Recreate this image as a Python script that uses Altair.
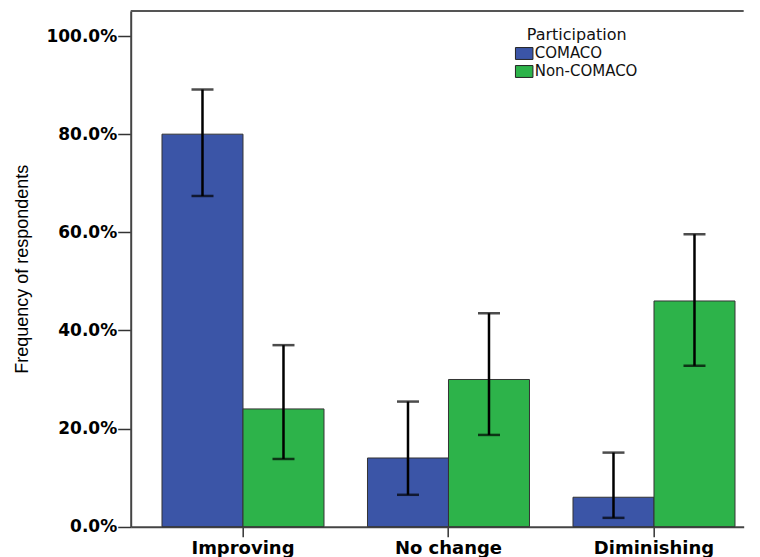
import altair as alt
import pandas as pd

categories = ["Improving", "No change", "Diminishing"]
groups = ["COMACO", "Non-COMACO"]
comaco = [80.0, 14.0, 6.0]
comaco_lo = [67.4, 6.5, 1.8]
comaco_hi = [89.1, 25.5, 15.1]
non_comaco = [24.0, 30.0, 46.0]
non_comaco_lo = [13.8, 18.7, 32.8]
non_comaco_hi = [37.0, 43.5, 59.6]
y_ticks = [0, 20, 40, 60, 80, 100]
y_max = 105.1
colors = ["#3b55a7", "#2db34a"]

rows = []
for i, c in enumerate(categories):
    rows.append({"category": c, "group": groups[0], "value": comaco[i], "lo": comaco_lo[i], "hi": comaco_hi[i]})
    rows.append({"category": c, "group": groups[1], "value": non_comaco[i], "lo": non_comaco_lo[i], "hi": non_comaco_hi[i]})
df = pd.DataFrame(rows)

W = 613
H = 515.7

x_enc = alt.X(
    "category:N", sort=categories,
    scale=alt.Scale(paddingInner=0.2117, paddingOuter=0.0973, align=0.7825),
    axis=alt.Axis(title=None, labelAngle=0, labelFont="DejaVu Sans", labelFontWeight="bold",
                  labelFontSize=18, labelColor="#000", tickSize=10, tickColor="#333",
                  tickWidth=1.5, domainColor="#444", domainWidth=2, labelPadding=3),
)
xo_enc = alt.XOffset("group:N", sort=groups, scale=alt.Scale(paddingInner=0, paddingOuter=0))
y_scale = alt.Scale(domain=[0, y_max], nice=False)

base = alt.Chart(df).encode(x=x_enc, xOffset=xo_enc)

bars = base.mark_bar(stroke="#333", strokeWidth=1).encode(
    y=alt.Y("value:Q", scale=y_scale,
            axis=alt.Axis(values=y_ticks, labelExpr="format(datum.value, '.1f') + '%'",
                          labelFont="DejaVu Sans", labelFontWeight="bold", labelFontSize=17,
                          labelColor="#000", tickSize=13, tickColor="#333", tickWidth=1.5,
                          domainColor="#444", domainWidth=2, labelPadding=1, grid=False,
                          title="Frequency of respondents", titleFont="Liberation Sans",
                          titleFontSize=18, titleFontWeight="normal", titleColor="#000",
                          titleX=-108.7, titleY=H / 2, titleAngle=270, titleAlign="center",
                          titleBaseline="middle")),
    color=alt.Color("group:N", sort=groups, scale=alt.Scale(domain=groups, range=colors),
                    legend=alt.Legend(orient="none", legendX=386, legendY=16, title="Participation",
                                      titleFont="DejaVu Sans", titleFontSize=16, titleFontWeight="normal",
                                      titleColor="#111", titleAnchor="middle", titlePadding=3,
                                      labelFont="DejaVu Sans", labelFontSize=15, labelColor="#111",
                                      symbolType="M-1.25,-0.85H1.25V0.85H-1.25Z", symbolSize=196,
                                      symbolStrokeColor="#222", symbolStrokeWidth=1, symbolOpacity=1,
                                      labelOffset=3, rowPadding=1, padding=0)),
)

err = base.mark_rule(color="#000", strokeWidth=2.5).encode(
    y=alt.Y("lo:Q", scale=y_scale), y2="hi:Q")
cap_hi = base.mark_tick(color="#000", thickness=2.5, size=22).encode(y=alt.Y("hi:Q", scale=y_scale))
cap_lo = base.mark_tick(color="#000", thickness=2.5, size=22).encode(y=alt.Y("lo:Q", scale=y_scale))

top_line = alt.Chart(pd.DataFrame({"a": [0]})).mark_rule(color="#555", strokeWidth=2).encode(
    y=alt.Y(datum=y_max, scale=y_scale))

chart = alt.layer(bars, err, cap_hi, cap_lo, top_line).properties(
    width=W, height=H,
    autosize=alt.AutoSizeParams(type="none"),
    padding={"left": 122.7, "top": 3, "right": 8, "bottom": 30},
    background="white",
).configure_view(stroke="transparent", strokeWidth=0)

chart.save("out.html", embed_options={"renderer": "svg", "actions": False})
